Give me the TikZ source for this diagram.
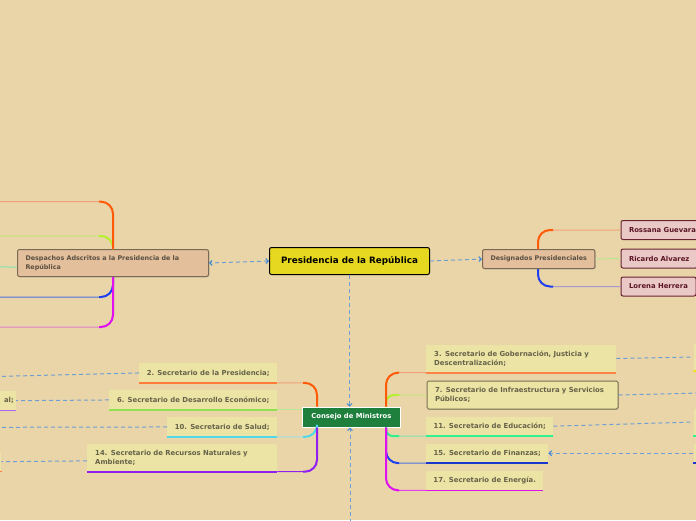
\documentclass[tikz,border=0pt]{standalone}
\usepackage{fontspec}
\setmainfont{DejaVu Sans}
\usetikzlibrary{arrows.meta,shadows}
\definecolor{bg}{HTML}{E9D5A8}
\definecolor{secfill}{HTML}{ECE4A4}
\definecolor{sectext}{HTML}{66624A}
\definecolor{despfill}{HTML}{E3BF9C}
\definecolor{despdraw}{HTML}{7A6A55}
\definecolor{desptext}{HTML}{5A5042}
\definecolor{presfill}{HTML}{E6D820}
\definecolor{cmfill}{HTML}{1F7F3D}
\definecolor{perfill}{HTML}{E9C8C6}
\definecolor{perdraw}{HTML}{6A2333}
\definecolor{pertext}{HTML}{5A1424}
\definecolor{dashc}{HTML}{6F9FD2}
\definecolor{tipc}{HTML}{3A86D8}
\definecolor{sOrange}{HTML}{FF5A08}
\definecolor{lOrange}{HTML}{F2A27A}
\definecolor{sYG}{HTML}{B4F030}
\definecolor{lYG}{HTML}{C4E878}
\definecolor{sGreen}{HTML}{30F090}
\definecolor{lGreen}{HTML}{80E8B0}
\definecolor{sLime}{HTML}{90E050}
\definecolor{lLime}{HTML}{B8E890}
\definecolor{sCyan}{HTML}{50D8E8}
\definecolor{lCyan}{HTML}{A0E0E8}
\definecolor{sPurple}{HTML}{9020F0}
\definecolor{sBlue}{HTML}{2040F0}
\definecolor{lBlue}{HTML}{5070E0}
\definecolor{sMag}{HTML}{E010F0}
\definecolor{lPink}{HTML}{E080C8}
\definecolor{lLav}{HTML}{A898D0}
\definecolor{sYel}{HTML}{F0E020}
\newcommand\secfnt{\fontsize{6.9}{9.3}\selectfont\bfseries}
\newcommand\despfnt{\fontsize{6.4}{9}\selectfont\bfseries}
\begin{document}
\begin{tikzpicture}[x=1pt,y=-1pt,
  sec/.style={fill=secfill, text=sectext, font=\secfnt, inner xsep=8pt, inner ysep=0pt, anchor=north west, align=left},
  secone/.style={fill=secfill, text=sectext, font=\secfnt, inner sep=0pt, anchor=north west},
  strip/.style={fill=secfill, inner sep=0pt, minimum width=12pt},
  despbox/.style={fill=despfill, draw=despdraw, line width=1pt, rounded corners=2pt, text=desptext, font=\despfnt, inner xsep=8pt, inner ysep=0pt, anchor=north west, align=left, drop shadow={shadow xshift=0.8pt, shadow yshift=-0.8pt, opacity=0.3}},
  mainbox/.style={fill=presfill, draw=black, line width=1pt, rounded corners=2pt, font=\fontsize{8.8}{10}\selectfont\bfseries, anchor=north west, inner sep=0pt, minimum width=160pt, minimum height=27pt},
  cmbox/.style={fill=cmfill, draw=white, line width=0.8pt, text=white, font=\fontsize{6.8}{8}\selectfont\bfseries, anchor=north west, inner sep=0pt, minimum width=98pt, minimum height=20pt},
  person/.style={fill=perfill, draw=perdraw, line width=1pt, rounded corners=2pt, text=pertext, font=\fontsize{6.85}{8}\selectfont\bfseries, anchor=north west, inner xsep=8pt, inner ysep=0pt, minimum height=19pt},
  br/.style={line width=1pt, rounded corners=12pt},
  stem/.style={line width=2pt, rounded corners=12pt},
  ul/.style={line width=1.6pt},
  dashrel/.style={draw=dashc, line width=1pt, dash pattern=on 4pt off 3pt},
  dfwd/.style={-{Straight Barb[length=2.5pt,width=5pt,color=tipc]}},
  dboth/.style={{Straight Barb[length=2.5pt,width=5pt,color=tipc]}-{Straight Barb[length=2.5pt,width=5pt,color=tipc]}}
]
\fill[bg] (0,0) rectangle (696,520);
\useasboundingbox (0,0) rectangle (696,520);

% main nodes
\node[mainbox] (pres) at (269,247) {Presidencia de la República};
\node[despbox, text width=175pt, minimum height=27pt] (desp) at (17,249) {Despachos Adscritos a la Presidencia de la\\República};
\node[despbox, minimum width=112pt, minimum height=19pt, align=center] (desig) at (482,249) {Designados Presidenciales};
\node[person] (ros) at (620.5,220) {Rossana Guevara};
\node[person, minimum width=75pt] (ric) at (620.5,248.5) {Ricardo Alvarez};
\node[person, minimum width=75pt] (lor) at (620.5,276.5) {Lorena Herrera};
\node[cmbox] (cm) at (302,406.7) {Consejo de Ministros};

% secretaries left
\node[secone, minimum width=138pt, minimum height=19.5pt] (s2) at (139,363) {2. Secretario de la Presidencia;};
\node[secone, minimum width=168pt, minimum height=19.5pt] (s6) at (109,390) {6. Secretario de Desarrollo Económico;};
\node[secone, minimum width=110pt, minimum height=19.5pt] (s10) at (167,417) {10. Secretario de Salud;};
\node[sec, text width=174pt, minimum height=27.3pt] (s14) at (87,444) {14. Secretario de Recursos Naturales y\\Ambiente;};
% secretaries right
\node[sec, text width=174pt, minimum height=28pt] (s3) at (426,344.3) {3. Secretario de Gobernación, Justicia y\\Descentralización;};
\node[sec, draw={rgb,255:red,122;green,112;blue,82}, line width=1pt, rounded corners=1.5pt, drop shadow={shadow xshift=0.8pt, shadow yshift=-0.8pt, opacity=0.3}, text width=175pt, minimum height=28pt] (s7) at (426.5,380.5) {7. Secretario de Infraestructura y Servicios\\Públicos;};
\node[secone, minimum width=127pt, minimum height=19.4pt] (s11) at (426,416.3) {11. Secretario de Educación;};
\node[secone, minimum width=122pt, minimum height=19.4pt] (s15) at (426,443.3) {15. Secretario de Finanzas;};
\node[secone, minimum width=117pt, minimum height=19.6pt] (s17) at (426,470.3) {17. Secretario de Energía.};

% partially visible neighbours
\node[sec, anchor=north east, text width=20pt, align=right, inner xsep=2pt, minimum height=19pt] (al) at (16,391) {al;};
\node[strip, anchor=north east, minimum height=19pt] (l14) at (1.5,452) {};
\node[strip, anchor=north west, minimum height=27pt] (r3) at (693.3,343.3) {};
\node[strip, anchor=north west, minimum height=27pt] (r11) at (693.3,408.3) {};
\node[strip, anchor=north west, minimum height=19.4pt] (r15) at (693.3,443.3) {};

\coordinate (d1) at (-5,201.7);
\coordinate (d2) at (-5,236);
\coordinate (d3) at (-5,266.7);
\coordinate (d4) at (-5,297);
\coordinate (d5) at (-5,327);
\coordinate (dx) at (113,262);
\coordinate (gx) at (538,258);
\coordinate (cL) at (317,416.7);
\coordinate (cR) at (386,416.7);
\coordinate (L2) at (-5,376.5);
\coordinate (L10) at (-5,427.3);
\coordinate (R7) at (700,393);
\coordinate (bot) at (350,530);

% underlines
\draw[ul, sOrange!80!white] (s2.south west) -- (s2.south east);
\draw[ul, sLime] (s6.south west) -- (s6.south east);
\draw[ul, sCyan] (s10.south west) -- (s10.south east);
\draw[ul, sPurple] (s14.south west) -- (s14.south east);
\draw[ul, sOrange!75!white] (s3.south west) -- (s3.south east);
\draw[ul, sGreen] (s11.south west) -- (s11.south east);
\draw[ul, sBlue!85!black] (s15.south west) -- (s15.south east);
\draw[ul, sMag] (s17.south west) -- (s17.south east);
\draw[ul, sPurple!70!white] (al.south west) -- (al.south east);
\draw[ul, sOrange!80!white] (l14.south west) -- (l14.south east);
\draw[ul, sYel] (r3.south west) -- (r3.south east);
\draw[ul, sGreen] (r11.south west) -- (r11.south east);
\draw[ul, sBlue!85!black] (r15.south west) -- (r15.south east);

% Despachos branches
\draw[br, lYG] (dx |- desp.north) -- (dx |- d2) -- (d2);
\draw[br, lOrange] (dx |- desp.north) -- (dx |- d1) -- (d1);
\draw[line width=1pt, lGreen] ([yshift=-4.2pt]desp.west) -- (d3);
\draw[br, lBlue] (dx |- desp.south) -- (dx |- d4) -- (d4);
\draw[br, lPink] (dx |- desp.south) -- (dx |- d5) -- (d5);
\begin{scope}
\clip (99,190) rectangle (125,340);
\draw[stem, sYG] (dx |- desp.north) -- (dx |- d2) -- (d2);
\draw[stem, sOrange] (dx |- desp.north) -- (dx |- d1) -- (d1);
\draw[stem, sBlue] (dx |- desp.south) -- (dx |- d4) -- (d4);
\draw[stem, sMag] (dx |- desp.south) -- (dx |- d5) -- (d5);
\end{scope}

% Designados branches
\draw[br, lOrange] (gx |- desig.north) -- (gx |- ros.west) -- (ros.west);
\draw[line width=1pt, lLime] (desig.east) -- (ric.west);
\draw[br, lLav] (gx |- desig.south) -- (gx |- lor.west) -- (lor.west);
\begin{scope}
\clip (530,210) rectangle (553,300);
\draw[stem, sOrange] (gx |- desig.north) -- (gx |- ros.west) -- (ros.west);
\draw[stem, sBlue] (gx |- desig.south) -- (gx |- lor.west) -- (lor.west);
\end{scope}

% Consejo branches
\draw[br, lOrange] (cL |- cm.north) -- (cL |- s2.south east) -- (s2.south east);
\draw[line width=1pt, lLime] (s6.south east) -- (s6.south east -| cm.west);
\draw[br, lCyan] (cL |- cm.south) -- (cL |- s10.south east) -- (s10.south east);
\draw[br, sPurple] (cL |- cm.south) -- (cL |- s14.south east) -- (s14.south east);
\draw[br, lYG, rounded corners=8pt] (cR |- cm.north) -- (cR |- s7.west) -- (s7.west);
\draw[br, lOrange] (cR |- cm.north) -- (cR |- s3.south west) -- (s3.south west);
\draw[br, lGreen, rounded corners=7pt] (cR |- cm.south) -- (cR |- s11.south west) -- (s11.south west);
\draw[br, lBlue] (cR |- cm.south) -- (cR |- s15.south west) -- (s15.south west);
\draw[br, sMag!80!white] (cR |- cm.south) -- (cR |- s17.south west) -- (s17.south west);
\begin{scope}
\clip (303,350) rectangle (399,500);
\draw[stem, sOrange] (cL |- cm.north) -- (cL |- s2.south east) -- (s2.south east);
\draw[stem, sCyan] (cL |- cm.south) -- (cL |- s10.south east) -- (s10.south east);
\draw[stem, sPurple] (cL |- cm.south) -- (cL |- s14.south east) -- (s14.south east);
\draw[stem, sYG, rounded corners=8pt] (cR |- cm.north) -- (cR |- s7.west) -- (s7.west);
\draw[stem, sOrange] (cR |- cm.north) -- (cR |- s3.south west) -- (s3.south west);
\draw[stem, sGreen, rounded corners=7pt] (cR |- cm.south) -- (cR |- s11.south west) -- (s11.south west);
\draw[stem, sBlue] (cR |- cm.south) -- (cR |- s15.south west) -- (s15.south west);
\draw[stem, sMag] (cR |- cm.south) -- (cR |- s17.south west) -- (s17.south west);
\end{scope}

% dashed relations
\draw[dashrel, dboth] (pres.west) -- (desp.east);
\draw[dashrel, dfwd] (pres.east) -- (desig.west);
\draw[dashrel, dfwd] (pres.south) -- (pres.south |- cm.north);
\draw[dashrel, dfwd] (bot) -- (bot |- cm.south);
\draw[dashrel] (s2.west) -- (L2);
\draw[dashrel] (s6.west) -- (al.east);
\draw[dashrel] (s10.west) -- (L10);
\draw[dashrel] ([yshift=-3pt]s14.west) -- (l14.east);
\draw[dashrel] (s3.east) -- (r3.west);
\draw[dashrel] (s7.east) -- (R7);
\draw[dashrel] (s11.east) -- (r11.west);
\draw[dashrel, dfwd] (r15.west) -- (s15.east);
\end{tikzpicture}
\end{document}
